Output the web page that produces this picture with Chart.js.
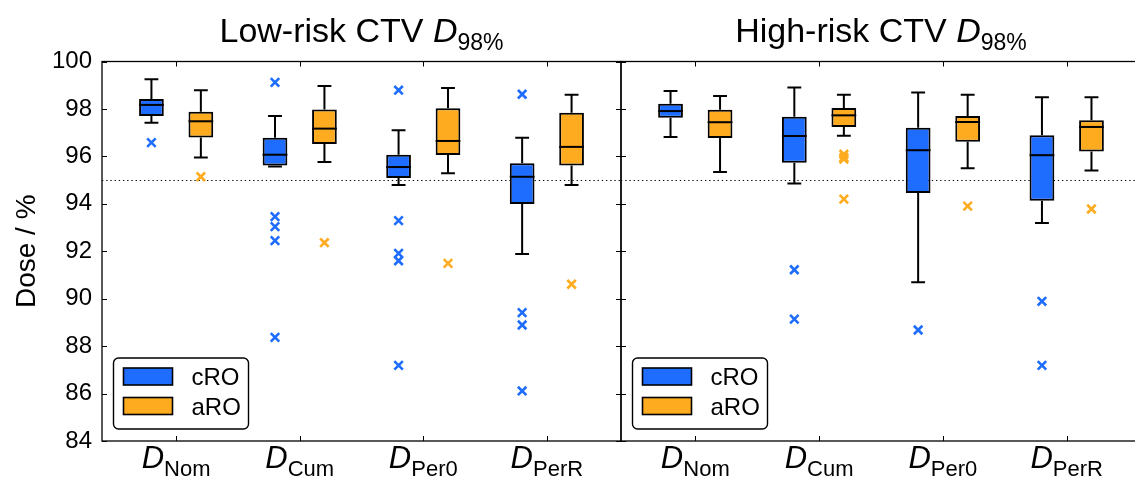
<!DOCTYPE html>
<html>
<head>
<meta charset="utf-8">
<script src="https://cdn.jsdelivr.net/npm/chart.js@4.4.1/dist/chart.umd.min.js"></script>
<style>
  html, body { margin: 0; padding: 0; background: #fff; overflow: hidden; width: 1135px; height: 479px; }
  canvas { position: absolute; top: 0; }
  #c1 { left: 0; }
  #c2 { left: 601px; }
</style>
</head>
<body>
<canvas id="c1" width="640" height="479"></canvas>
<canvas id="c2" width="560" height="479"></canvas>
<script>
// Dose metrics (x categories) and the two plan groups
const categories = ['Nom', 'Cum', 'Per0', 'PerR'];
const groups = ['cRO', 'aRO'];
const yTicks = [84, 86, 88, 90, 92, 94, 96, 98, 100];
const threshold = 95;

// Box statistics per metric: [lower whisker, Q1, median, Q3, upper whisker]
const lowRiskCRO = [
  [97.42, 97.70, 98.17, 98.42, 99.25],
  [95.57, 95.62, 96.07, 96.79, 97.70],
  [94.79, 95.09, 95.55, 96.07, 97.10],
  [91.88, 93.99, 95.14, 95.71, 96.79]
];
const lowRiskARO = [
  [95.95, 96.80, 97.48, 97.88, 98.79],
  [95.76, 96.52, 97.17, 97.98, 98.97],
  [95.29, 96.06, 96.65, 98.03, 98.88],
  [94.79, 95.62, 96.40, 97.84, 98.60]
];
const highRiskCRO = [
  [96.82, 97.63, 97.91, 98.22, 98.76],
  [94.86, 95.73, 96.86, 97.67, 98.90],
  [90.69, 94.46, 96.26, 97.21, 98.69],
  [93.19, 94.13, 96.05, 96.89, 98.49]
];
const highRiskARO = [
  [95.34, 96.77, 97.44, 97.97, 98.55],
  [96.87, 97.24, 97.73, 98.04, 98.60],
  [95.50, 96.62, 97.45, 97.70, 98.60],
  [95.40, 96.21, 97.24, 97.52, 98.49]
];

// Outliers per metric
const lowRiskCROOutliers = [
  [96.58],
  [99.12, 93.46, 93.04, 92.45, 88.37],
  [98.79, 93.29, 91.91, 91.60, 87.19],
  [98.62, 89.41, 88.89, 86.11]
];
const lowRiskAROOutliers = [[95.14], [92.36], [91.49], [90.61]];
const highRiskCROOutliers = [[], [91.22, 89.14], [88.68], [89.89, 87.19]];
const highRiskAROOutliers = [[], [96.09, 95.96, 95.89, 94.20], [93.90], [93.78]];

const FONT = "'Liberation Sans', Arial, Helvetica, sans-serif";
const COLORS = { cRO: '#1e6dff', aRO: '#ffab1f' };
const GROUP_SHIFT = 0.2; // box centres sit at metric ± this

function toBoxes(stats) {
  return stats.map((s, i) => ({ x: i + 1, y: [s[1], s[3]] }));
}
function toPoints(outliers, shift) {
  return outliers.flatMap((vals, i) => vals.map(v => ({ x: i + 1 + shift, y: v })));
}

// Draws a run of text pieces (with optional baseline shift) centred on cx
function drawRich(ctx, parts, cx, baseY) {
  let total = 0;
  parts.forEach(p => { ctx.font = p.font; p.w = ctx.measureText(p.text).width; total += p.w; });
  let x = cx - total / 2;
  ctx.textAlign = 'left';
  ctx.textBaseline = 'alphabetic';
  parts.forEach(p => {
    ctx.font = p.font;
    ctx.fillText(p.text, x, baseY + (p.dy || 0));
    x += p.w;
  });
}

const boxPlugin = {
  id: 'boxStats',
  beforeDatasetsDraw(chart) {
    const { ctx, chartArea: a, scales: { y } } = chart;
    ctx.save();
    // reference dose level
    ctx.strokeStyle = '#000';
    ctx.lineWidth = 1.2;
    ctx.setLineDash([1.3, 2.9]);
    const ty = Math.round(y.getPixelForValue(threshold)) + 0.5;
    ctx.beginPath();
    ctx.moveTo(a.left, ty);
    ctx.lineTo(a.right, ty);
    ctx.stroke();
    ctx.setLineDash([]);
    // whiskers and caps
    ctx.lineWidth = 2;
    chart.data.datasets.forEach((ds, di) => {
      if (!ds.stats) return;
      const meta = chart.getDatasetMeta(di);
      ds.stats.forEach((s, i) => {
        const el = meta.data[i];
        const cap = el.width * 0.28;
        const segs = [[s[1], s[0]], [s[3], s[4]]];
        segs.forEach(([from, to]) => {
          const y0 = y.getPixelForValue(from), y1 = y.getPixelForValue(to);
          ctx.beginPath();
          ctx.moveTo(el.x, y0);
          ctx.lineTo(el.x, y1);
          ctx.moveTo(el.x - cap, y1);
          ctx.lineTo(el.x + cap, y1);
          ctx.stroke();
        });
      });
    });
    ctx.restore();
  },
  afterDatasetsDraw(chart) {
    const { ctx, scales: { y } } = chart;
    ctx.save();
    ctx.strokeStyle = '#000';
    ctx.lineWidth = 2;
    chart.data.datasets.forEach((ds, di) => {
      if (!ds.stats) return;
      const meta = chart.getDatasetMeta(di);
      ds.stats.forEach((s, i) => {
        const el = meta.data[i];
        const my = y.getPixelForValue(s[2]);
        ctx.beginPath();
        ctx.moveTo(el.x - el.width / 2, my);
        ctx.lineTo(el.x + el.width / 2, my);
        ctx.stroke();
      });
    });
    ctx.restore();
  },
  afterDraw(chart) {
    const { ctx, chartArea: a, scales: { x, y } } = chart;
    const panel = chart.options.plugins.boxStats;
    ctx.save();
    // frame
    ctx.strokeStyle = '#000';
    ctx.lineWidth = 1.3;
    ctx.strokeRect(a.left, a.top, a.right - a.left, a.bottom - a.top);
    // inward tick marks
    ctx.lineWidth = 1;
    const tl = 5;
    ctx.beginPath();
    categories.forEach((c, i) => {
      const px = Math.round(x.getPixelForValue(i + 1)) + 0.5;
      ctx.moveTo(px, a.bottom); ctx.lineTo(px, a.bottom - tl);
      ctx.moveTo(px, a.top); ctx.lineTo(px, a.top + tl);
    });
    yTicks.forEach(v => {
      const py = Math.round(y.getPixelForValue(v)) + 0.5;
      ctx.moveTo(a.left, py); ctx.lineTo(a.left + tl, py);
      ctx.moveTo(a.right, py); ctx.lineTo(a.right - tl, py);
    });
    ctx.stroke();

    ctx.fillStyle = '#000';
    const cx = (a.left + a.right) / 2;
    // panel title
    drawRich(ctx, [
      { text: panel.title, font: `34px ${FONT}` },
      { text: 'D', font: `italic 34px ${FONT}` },
      { text: '98%', font: `23px ${FONT}`, dy: 8 }
    ], cx, 42);
    // metric labels
    categories.forEach((c, i) => {
      drawRich(ctx, [
        { text: 'D', font: `italic 31px ${FONT}` },
        { text: c, font: `22px ${FONT}`, dy: 8 }
      ], x.getPixelForValue(i + 1), 468);
    });
    // y-axis title
    if (panel.yTitle) {
      ctx.save();
      ctx.translate(27, (a.top + a.bottom) / 2);
      ctx.rotate(-Math.PI / 2);
      ctx.font = `28px ${FONT}`;
      ctx.textAlign = 'center';
      ctx.textBaseline = 'middle';
      ctx.fillText(panel.yTitle, 0, 0);
      ctx.restore();
    }
    // legend
    const lx = a.left + 11.5, ly = a.bottom - 83, lw = 135, lh = 71, r = 5;
    ctx.beginPath();
    ctx.roundRect(lx, ly, lw, lh, r);
    ctx.fillStyle = '#fff';
    ctx.fill();
    ctx.lineWidth = 1.4;
    ctx.strokeStyle = '#000';
    ctx.stroke();
    groups.forEach((g, i) => {
      const py = ly + 10 + i * 29.5;
      ctx.fillStyle = COLORS[g];
      ctx.fillRect(lx + 10, py, 49, 17);
      ctx.lineWidth = 1.6;
      ctx.strokeRect(lx + 10, py, 49, 17);
      ctx.fillStyle = '#000';
      ctx.font = `24px ${FONT}`;
      ctx.textAlign = 'left';
      ctx.textBaseline = 'alphabetic';
      ctx.fillText(g, lx + 78, py + 17);
    });
    ctx.restore();
  }
};

function makePanel(canvasId, title, cro, aro, croOut, aroOut, showY, padL, padR) {
  return new Chart(document.getElementById(canvasId), {
    type: 'bar',
    data: {
      datasets: [
        { label: groups[0], data: toBoxes(cro), stats: cro, backgroundColor: COLORS.cRO,
          borderColor: '#000', borderWidth: 2, borderSkipped: false, order: 2 },
        { label: groups[1], data: toBoxes(aro), stats: aro, backgroundColor: COLORS.aRO,
          borderColor: '#000', borderWidth: 2, borderSkipped: false, order: 2 },
        { type: 'scatter', label: groups[0] + ' outliers', data: toPoints(croOut, -GROUP_SHIFT),
          pointStyle: 'crossRot', pointRadius: 6, pointBorderWidth: 2.6,
          borderColor: COLORS.cRO, backgroundColor: COLORS.cRO, order: 1 },
        { type: 'scatter', label: groups[1] + ' outliers', data: toPoints(aroOut, GROUP_SHIFT),
          pointStyle: 'crossRot', pointRadius: 6, pointBorderWidth: 2.6,
          borderColor: COLORS.aRO, backgroundColor: COLORS.aRO, order: 1 }
      ]
    },
    options: {
      responsive: false,
      animation: false,
      events: [],
      layout: { padding: { left: padL, right: padR, top: 61.5, bottom: 38 } },
      datasets: { bar: { grouped: true, categoryPercentage: 0.8, barPercentage: 0.5 } },
      scales: {
        x: {
          type: 'linear', min: 0.4, max: 4.6, display: false, offset: false,
          afterBuildTicks: s => { s.ticks = categories.map((c, i) => ({ value: i + 1 })); }
        },
        y: {
          type: 'linear', min: 84, max: 100, display: showY,
          grid: { display: false, drawTicks: false },
          border: { display: false },
          afterBuildTicks: s => { s.ticks = yTicks.map(v => ({ value: v })); },
          afterFit: s => { if (showY) s.width = 102; },
          ticks: { color: '#000', padding: 10, font: { family: FONT, size: 24 } }
        }
      },
      plugins: {
        legend: { display: false },
        tooltip: { enabled: false },
        boxStats: { title: title, yTitle: showY ? 'Dose / %' : null }
      }
    },
    plugins: [boxPlugin]
  });
}

makePanel('c1', 'Low-risk CTV ', lowRiskCRO, lowRiskARO, lowRiskCROOutliers, lowRiskAROOutliers, true, 0, 19);
makePanel('c2', 'High-risk CTV ', highRiskCRO, highRiskARO, highRiskCROOutliers, highRiskAROOutliers, false, 20, 20);
</script>
</body>
</html>
